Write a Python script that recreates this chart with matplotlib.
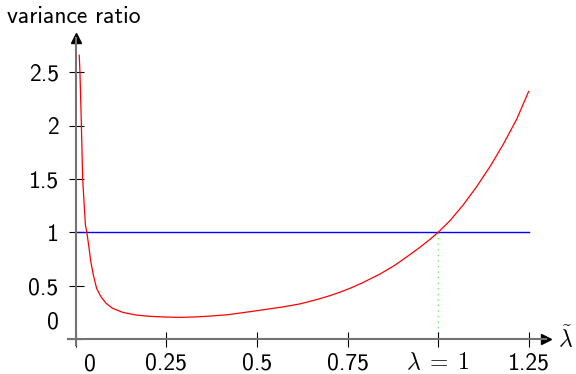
import numpy as np
import matplotlib
matplotlib.use("Agg")
import matplotlib.pyplot as plt

plt.rcParams['font.family'] = ['cmss10', 'DejaVu Sans']
plt.rcParams['mathtext.fontset'] = 'cm'
plt.rcParams['axes.unicode_minus'] = False

# valores
lam = [0.009, 0.011, 0.015, 0.0185, 0.026, 0.030, 0.035, 0.041, 0.048, 0.057,
       0.069, 0.083, 0.101, 0.129, 0.166, 0.203, 0.249, 0.29, 0.33, 0.37,
       0.42, 0.48, 0.57, 0.62, 0.665, 0.70, 0.73, 0.76, 0.79, 0.84,
       0.88, 0.914, 0.95, 0.978, 1.0, 1.033, 1.07, 1.107, 1.144, 1.18,
       1.217, 1.25]
razao = [2.66, 2.5, 2.0, 1.5, 1.07, 1.0, 0.88, 0.725, 0.60, 0.475,
         0.396, 0.335, 0.288, 0.25, 0.225, 0.213, 0.206, 0.203, 0.207, 0.215,
         0.228, 0.256, 0.30, 0.33, 0.37, 0.405, 0.44, 0.48, 0.525, 0.61,
         0.69, 0.771, 0.86, 0.935, 1.0, 1.11, 1.26, 1.43, 1.62, 1.825,
         2.06, 2.32]
ref_x = [0, 1.25]
ref_y = [1, 1]
lam_verdadeiro = 1.0

xticks = [0, 0.25, 0.5, 0.75, 1.0, 1.25]
xlabels = ['', '0.25', '0.5', '0.75', r'$\lambda\;=\;1$', '1.25']
yticks = [0, 0.5, 1, 1.5, 2, 2.5]
ylabels = ['', '0.5', '1', '1.5', '2', '2.5']
fs = 17

W, H = 576, 374
fig = plt.figure(figsize=(W / 100, H / 100), dpi=100)
# eixos posicionados em pixels
ax = fig.add_axes([68 / W, (H - 345) / H, (546 - 68) / W, (345 - 37.5) / H])
ax.set_xlim(-0.022, 1.298)
ax.set_ylim(-0.056, 2.826)

ax.plot(lam, razao, color='red', lw=0.9, zorder=3)
ax.plot(ref_x, ref_y, color='blue', lw=1.0, zorder=2)
ax.plot([lam_verdadeiro, lam_verdadeiro], [0, 1], color='#66ee66', lw=1.0,
        linestyle=(0, (1, 3)), zorder=1)

for s in ['top', 'right']:
    ax.spines[s].set_visible(False)
ax.spines['left'].set_position(('data', 0))
ax.spines['bottom'].set_position(('data', 0))
for s in ['left', 'bottom']:
    ax.spines[s].set_color('0.45')
    ax.spines[s].set_linewidth(1.5)

# setas dos eixos
ax.plot(1, 0, '>', color='black', ms=6.5, transform=ax.get_yaxis_transform(), clip_on=False)
ax.plot(0, 1, '^', color='black', ms=6.5, transform=ax.get_xaxis_transform(), clip_on=False)

ax.set_xticks(xticks)
ax.set_xticklabels(xlabels)
ax.set_yticks(yticks)
ax.set_yticklabels(ylabels)
ax.tick_params(direction='inout', length=10.8, width=0.8, color='black',
               labelsize=fs)
ax.tick_params(axis='x', pad=4)
ax.tick_params(axis='y', pad=7)

ax.annotate('0', xy=(0, 0), xytext=(10, -18), textcoords='offset points',
            ha='center', va='center', fontsize=fs)
ax.annotate('0', xy=(0, 0), xytext=(-12, 12), textcoords='offset points',
            ha='right', va='center', fontsize=fs)

fig.text(7 / W, 1 - 17 / H, 'variance ratio', ha='left', va='center', fontsize=fs)
ax.annotate(r'$\tilde{\lambda}$', xy=(1, 0), xycoords=ax.get_yaxis_transform(),
            xytext=(14, 0), textcoords='offset points', ha='center', va='center',
            fontsize=fs)

fig.savefig('out.png', dpi=100)
